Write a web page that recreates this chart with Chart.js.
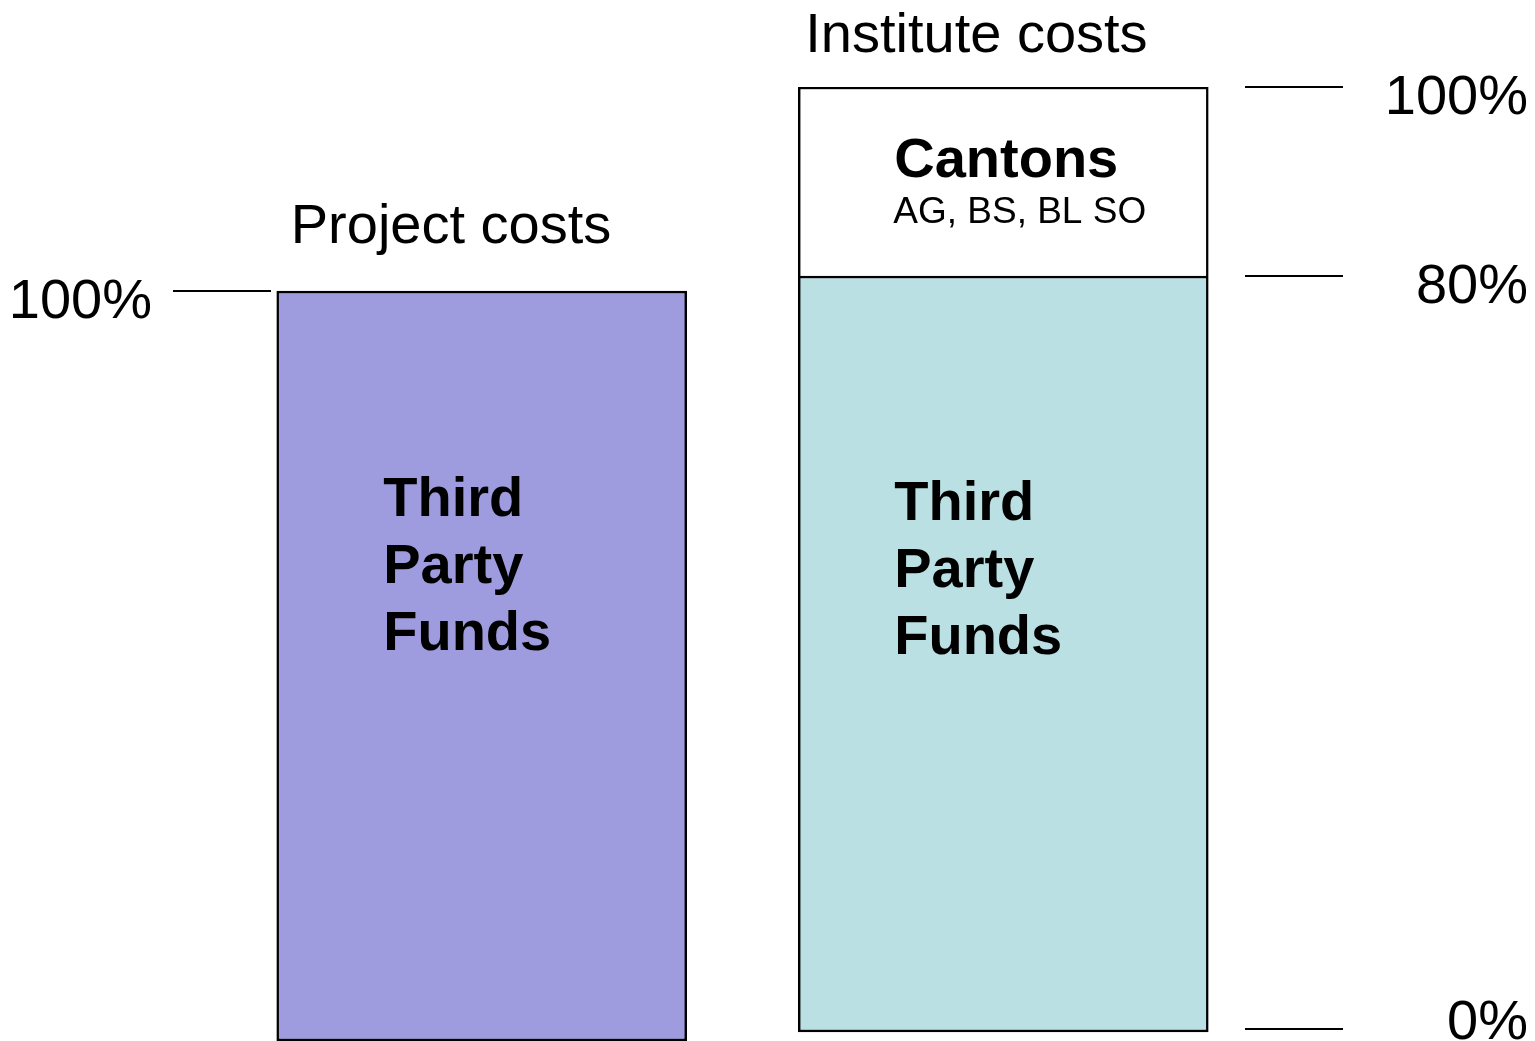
<!DOCTYPE html>
<html><head><meta charset="utf-8">
<script src="https://cdn.jsdelivr.net/npm/chart.js@4"></script>
<style>html,body{margin:0;padding:0;background:#fff;overflow:hidden}#wrap{width:1535px;height:1041px;position:relative}</style>
</head><body><div id="wrap"><canvas id="c"></canvas></div>
<script>
// ---- data ----
const categories = ['Project costs', 'Institute costs'];
const projectThirdParty = [100, null];
const instituteThirdParty = [null, 80];
const instituteCantons = [null, 20];
const leftTicks = [100];
const rightTicks = [0, 80, 100];
const thirdPartyLines = ['Third', 'Party', 'Funds'];
const cantonsTitle = 'Cantons';
const cantonsSub = 'AG, BS, BL SO';

const FONT = '"Liberation Sans", Arial, sans-serif';

const decor = {
  id: 'decor',
  afterDatasetsDraw(chart) {
    const ctx = chart.ctx;
    const yL = chart.scales.yL, yR = chart.scales.yR;
    const pBar = chart.getDatasetMeta(0).data[0];
    const iBar = chart.getDatasetMeta(1).data[1];
    const cBar = chart.getDatasetMeta(2).data[1];
    ctx.save();
    ctx.strokeStyle = '#000'; ctx.fillStyle = '#000'; ctx.lineWidth = 2;
    const hline = (x1, x2, y) => { ctx.beginPath(); ctx.moveTo(x1, y); ctx.lineTo(x2, y); ctx.stroke(); };
    ctx.font = '56px ' + FONT;
    ctx.textBaseline = 'alphabetic';
    ctx.textAlign = 'right';
    leftTicks.forEach(v => {
      const y = Math.round(yL.getPixelForValue(v));
      hline(173, 271, y);
      ctx.fillText(v + '%', 152, Math.min(y + 27, 1039));
    });
    rightTicks.forEach(v => {
      const y = Math.round(yR.getPixelForValue(v));
      hline(1245, 1343, Math.min(y, 1029));
      ctx.fillText(v + '%', 1528, Math.min(y + 27, 1039));
    });
    // category titles
    ctx.textAlign = 'left';
    ctx.fillText(categories[0], pBar.x - pBar.width / 2 + 14, pBar.y - 48);
    ctx.fillText(categories[1], cBar.x - cBar.width / 2 + 7, cBar.y - 35);
    // segment labels
    ctx.font = 'bold 56px ' + FONT;
    thirdPartyLines.forEach((t, i) => {
      ctx.fillText(t, pBar.x - 98.5, pBar.y + 225 + i * 67);
      ctx.fillText(t, iBar.x - 109, iBar.y + 244 + i * 67);
    });
    ctx.fillText(cantonsTitle, cBar.x - 109, cBar.y + 90);
    ctx.font = '37px ' + FONT;
    ctx.fillText(cantonsSub, cBar.x - 110, cBar.y + 136);
    ctx.restore();
  }
};

const common = { borderColor: '#000', borderWidth: 2.5, barThickness: 410, grouped: false };

new Chart(document.getElementById('c'), {
  type: 'bar',
  data: {
    labels: categories,
    datasets: [
      Object.assign({ label: 'Third Party Funds (project)', data: projectThirdParty, yAxisID: 'yL',
        backgroundColor: '#9E9CDE', borderSkipped: false }, common),
      Object.assign({ label: 'Third Party Funds (institute)', data: instituteThirdParty, yAxisID: 'yR',
        backgroundColor: '#BAE0E3', borderSkipped: false, stack: 'inst' }, common),
      Object.assign({ label: 'Cantons', data: instituteCantons, yAxisID: 'yR',
        backgroundColor: '#FFFFFF', borderSkipped: 'start', stack: 'inst' }, common)
    ]
  },
  options: {
    responsive: true,
    maintainAspectRatio: false,
    animation: false,
    layout: { padding: { left: 221, right: 271, top: 87, bottom: 0 } },
    plugins: { legend: { display: false }, tooltip: { enabled: false } },
    scales: {
      x: { display: false },
      yL: { display: false, position: 'left', min: 0, max: 127.2 },
      yR: { display: false, position: 'right', min: -0.95, max: 100, stacked: true }
    }
  },
  plugins: [decor]
});
</script></body></html>
